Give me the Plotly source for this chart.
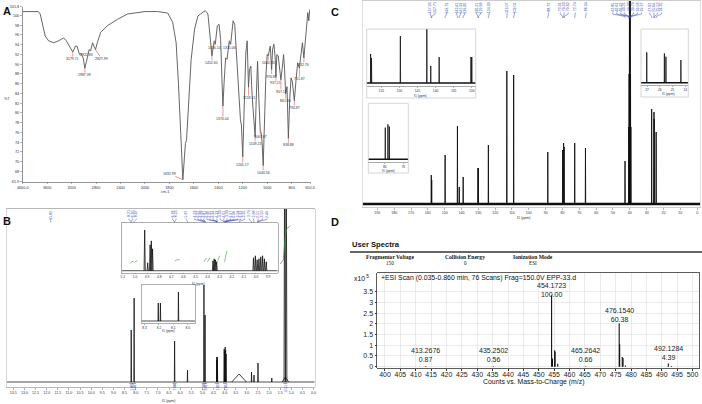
import plotly.graph_objects as go

W, H = 702, 404
SANS = "Liberation Sans, Arial, sans-serif"
SERIF = "Liberation Serif, Times New Roman, serif"
BLUE = "#3a45b0"
GREEN = "#3a9a3a"
RED = "#e07070"

# ================= A: FT-IR =================
IR_WAVENUMBER = [4000, 3742, 3714, 3670, 3632, 3577, 3494, 3412, 3330, 3286,
                 3220, 3181, 3137, 3110, 3071, 3044, 3011, 2983, 2956, 2934,
                 2912, 2890, 2857, 2835, 2808, 2780, 2725, 2615, 2450, 2286,
                 2121, 2000, 1896, 1814, 1773, 1745, 1726, 1710, 1690, 1677,
                 1669, 1660, 1644, 1622, 1594, 1567, 1545, 1526, 1507, 1485,
                 1466, 1452, 1441, 1433, 1425, 1408, 1394, 1381, 1370, 1362,
                 1353, 1340, 1329, 1310, 1299, 1279, 1266, 1249, 1233, 1219,
                 1211, 1200, 1189, 1175, 1164, 1153, 1145, 1134, 1123, 1110,
                 1099, 1090, 1079, 1068, 1057, 1049, 1041, 1033, 1022, 1011,
                 1000, 992, 984, 975, 964, 956, 945, 934, 929, 921,
                 910, 899, 888, 877, 866, 858, 849, 838, 827, 816,
                 805, 795, 778, 764, 751, 737, 723, 712, 700, 688,
                 676, 668, 660, 652]
IR_TRANSMITTANCE = [100.8, 100.8, 100.3, 97.9, 95.8, 94.8, 94.4, 94.8, 95.4, 94.8,
                    93.4, 92.5, 93.7, 93.7, 92.0, 92.2, 91.3, 89.2, 90.6, 92.0,
                    93.0, 92.7, 94.4, 93.7, 93.0, 94.4, 96.5, 97.9, 99.2, 100.3,
                    100.6, 100.8, 100.8, 100.5, 98.6, 94.4, 86.1, 75.8, 66.3, 71.0,
                    73.7, 74.4, 80.6, 91.0, 97.2, 99.9, 100.3, 100.6, 101.0, 100.3,
                    95.8, 91.7, 93.7, 94.8, 94.1, 97.9, 98.2, 95.1, 86.8, 81.4,
                    86.1, 91.3, 91.0, 94.8, 94.1, 98.9, 98.2, 91.0, 82.7, 78.6,
                    77.5, 71.0, 80.6, 92.3, 94.8, 85.3, 88.9, 89.6, 83.4, 77.9,
                    75.1, 82.7, 90.6, 82.7, 76.5, 75.8, 73.7, 69.2, 80.6, 87.5,
                    92.0, 91.7, 92.7, 93.7, 88.9, 93.1, 94.1, 91.0, 87.5, 92.0,
                    91.7, 89.6, 86.8, 89.2, 92.0, 88.9, 83.9, 85.4, 74.8, 82.7,
                    87.2, 86.5, 82.5, 86.8, 90.3, 89.2, 91.7, 94.4, 91.3, 94.4,
                    97.9, 100.6, 98.9, 101.2]
IR_LABEL_AT = [3181, 2983, 2912, 2808, 1690, 1452, 1433, 1362, 1310, 1200, 1153, 1099,
               1057, 1033, 992, 964, 929, 888, 849, 827, 778, 737, 700]
IR_LABEL_TEXT = ["3179.71", "2987.39", "2922.83", "2827.99", "1692.99", "1452.65",
                 "1436.10", "1374.04", "1315.06", "1205.17", "1159.11", "1109.23",
                 "1067.87", "1043.56", "1002.35", "976.88", "937.21", "907.11",
                 "861.80", "838.88", "794.87", "751.87", "732.76"]
IR_X_TICKS = [4000, 3600, 3200, 2800, 2400, 2000, 1800, 1600, 1400, 1200, 1000, 800, 650]
IR_X_TICKTEXT = ["4000.0", "3600", "3200", "2800", "2400", "2000", "1800", "1600",
                 "1400", "1200", "1000", "800", "650.0"]
IR_Y_TICKS = [65.9, 68, 70, 72, 74, 76, 78, 80, 82, 84, 86, 88, 90, 92, 94, 96, 98, 100, 101.8]

# ================= B: 1H NMR =================
H_PPM = [8.20, 8.07, 6.25, 5.67, 4.93, 4.88, 4.355, 4.345, 4.335, 4.325,
         4.02, 4.00, 3.975, 3.955, 3.935, 3.35, 2.79, 2.68, 2.50, 1.88,
         1.27, 1.30, 1.23]
H_INTENSITY = [0.52, 0.84, 0.41, 0.12, 0.97, 0.67, 0.22, 0.25, 0.25, 0.22,
               0.33, 0.31, 0.35, 0.32, 0.28, 0.08, 0.10, 0.07, 0.19, 0.04,
               0.05, 2.5, 2.5]
H_LINEWIDTH = [0.012] * 15 + [0.33, 0.012, 0.012, 0.015, 0.012, 0.15, 0.03, 0.03]

H_IN1_PPM = [4.92, 4.895, 4.875, 4.865, 4.855, 4.355, 4.345, 4.335, 4.325,
             4.02, 4.005, 3.99, 3.975, 3.96, 3.945, 3.93, 3.915]
H_IN1_INTENSITY = [41, 8, 26, 30, 22, 10, 12, 11, 9, 13, 15, 11, 12, 14, 15, 12, 9]
H_IN1_INTEGRALS = [(5.04, 5.01, 7.5, 9.5), (5.005, 4.98, 8.0, 10.0), (4.67, 4.63, 10.0, 11.0),
                   (4.43, 4.41, 9.0, 13.0), (4.40, 4.38, 9.0, 13.0), (4.32, 4.30, 9.0, 15.0),
                   (4.26, 4.24, 9.0, 20.0)]
H_IN2_PPM = [8.205, 8.19, 8.065]
H_IN2_INTENSITY = [18, 18, 29]

H_TOP_TEXT = ["11.82", "8.21", "8.20", "8.07", "6.26", "6.25", "5.67",
              "4.93", "4.92", "4.88", "4.87", "4.36", "4.35", "4.34",
              "4.33", "4.03", "4.01", "3.99", "3.97", "3.96", "3.94", "3.93", "3.35",
              "2.79", "2.68", "2.51", "2.50", "2.49"]
H_TOP_POS = [11.82, 8.30, 8.14, 7.98, 6.34, 6.18, 5.72,
             5.35, 5.21, 5.08, 4.94, 4.80, 4.67, 4.53,
             4.35, 4.20, 4.04, 3.89, 3.73, 3.58, 3.42, 3.27, 3.11,
             2.90, 2.70, 2.50, 2.30, 2.10]
H_INT_PPM = [8.20, 8.07, 6.25, 4.93, 4.87, 4.34, 3.98, 1.27]
H_INT_TEXT = ["1.00", "1.02", "1.00", "1.98", "1.01", "1.03", "2.05", "12.31"]

# ================= C: 13C NMR =================
C_PPM = [157.95, 157.71, 149.73, 142.41, 141.33, 139.00, 130.21, 129.98, 124.03,
         113.07, 109.01, 88.72, 79.91, 79.33, 79.02, 72.74, 66.34, 42.85,
         40.63, 40.42, 40.21, 40.00, 39.79, 39.58, 39.37, 27.02, 25.64, 25.52, 24.35]
C_INTENSITY = [0.29, 0.24, 0.49, 0.78, 0.17, 0.27, 0.36, 0.36, 0.59,
               1.33, 1.29, 0.52, 0.54, 0.61, 0.57, 0.61, 0.56, 0.43,
               0.77, 1.30, 2.20, 2.60, 2.20, 1.30, 0.77, 0.95, 0.92, 0.85, 0.72]
C_IN1_PPM = [157.95, 157.71, 149.73, 142.41, 141.33, 139.00, 130.21, 129.98]
C_IN1_INTENSITY = [29, 25, 47, 54, 17, 26, 26, 26]
C_IN2_PPM = [79.91, 79.33, 79.02]
C_IN2_INTENSITY = [31.7, 35, 32.7]
C_IN3_PPM = [27.02, 25.64, 25.52, 24.35]
C_IN3_INTENSITY = [30.3, 29.3, 26.0, 22.7]
C_TOP_TEXT = ["157.95", "157.71", "149.73", "142.41", "141.33", "139.00", "130.21", "129.98",
              "124.03", "113.07", "109.01", "88.72", "79.91", "79.33", "79.02", "72.74",
              "66.34", "42.85", "40.63", "40.42", "40.21", "40.00", "39.79", "39.58", "39.37",
              "27.02", "25.64", "25.52", "24.35"]
C_TOP_POS = [158.6, 155.7, 148.8, 142.9, 140.5, 138.1, 131.0, 128.7, 123.5, 112.9, 108.5,
             88.2, 81.3, 79.0, 76.6, 72.4, 65.9, 50.2, 47.8, 45.4, 43.3, 40.3, 37.9, 35.4,
             33.0, 28.1, 25.7, 23.5, 21.2]

# ================= D: HRMS =================
MS_MZ = [413.2676, 435.2502, 454.1723, 454.45, 455.175, 455.30, 456.18, 465.2642,
         476.1540, 476.30, 477.157, 477.40, 478.16, 492.1284, 493.13]
MS_COUNTS = [0.029, 0.019, 3.33, 0.38, 0.76, 0.70, 0.14, 0.022,
             2.01, 1.05, 0.45, 0.40, 0.05, 0.146, 0.03]
MS_LABEL_MZ = [413.2676, 435.2502, 454.1723, 465.2642, 476.1540, 492.1284]
MS_LABEL_PCT = ["0.87", "0.56", "100.00", "0.66", "60.38", "4.39"]
MS_LABEL_SHIFT = [2, 2, -4, 2, 0, 2]


# ----------------------------------------------------------------
def dom_x(a, b):
    return [a / W, b / W]


def dom_y(top, bottom):
    return [1 - bottom / H, 1 - top / H]


def ir_pos(w):
    return w if w <= 2000 else 2000 + (w - 2000) / 2


def stems(pos, hts, widths):
    xs, ys = [], []
    for p, h, w in zip(pos, hts, widths):
        xs += [p + w, p, p - w, None]
        ys += [0, h, 0, None]
    return xs, ys


fig = go.Figure()


def line(x, y, xa, ya, color="#111", width=0.8):
    fig.add_trace(go.Scatter(x=x, y=y, mode="lines", xaxis=xa, yaxis=ya,
                             line=dict(color=color, width=width), hoverinfo="skip",
                             connectgaps=False))


annotations = []


def paper_text(px, py, text, size, color="#111", xanchor="center", yanchor="middle",
               family=SANS, angle=0):
    annotations.append(dict(x=px / W, y=1 - py / H, xref="paper", yref="paper", text=text,
                            showarrow=False, font=dict(size=size, color=color, family=family),
                            xanchor=xanchor, yanchor=yanchor, textangle=angle, borderpad=0))


# ---- A ----
line([ir_pos(w) for w in IR_WAVENUMBER], IR_TRANSMITTANCE, "x", "y", "#555", 0.9)
IR_OFFSETS = {1690: (-13, -6), 1362: (0, 13), 888: (0, 12), 1153: (0, 11), 737: (0, 11),
              1200: (0, 8), 2912: (-3, 5), 2808: (6, 9)}
for w, t in zip(IR_LABEL_AT, IR_LABEL_TEXT):
    T = IR_TRANSMITTANCE[IR_WAVENUMBER.index(w)]
    ax, ay = IR_OFFSETS.get(w, (0, 7))
    annotations.append(dict(x=ir_pos(w), y=T, xref="x", yref="y", text=t, showarrow=True,
                            arrowhead=0, arrowwidth=0.7, arrowcolor=RED, ax=ax, ay=ay,
                            standoff=0, borderpad=0,
                            font=dict(size=3.5, color="#333", family=SANS)))

# ---- B main ----
xs, ys = stems(H_PPM, H_INTENSITY, H_LINEWIDTH)
line([13.8, -0.05], [0, 0], "x2", "y2", "#222", 0.8)
line(xs, ys, "x2", "y2", "#111", 0.8)
line([1.50, 1.36, 1.30, 1.22, 1.05], [1.18, 1.22, 1.40, 1.53, 1.56], "x2", "y2", GREEN, 0.7)
for p in H_INT_PPM:
    line([p + 0.09, p - 0.09], [-0.014, -0.014], "x2", "y2", GREEN, 0.7)
for p, t in zip(H_INT_PPM, H_INT_TEXT):
    annotations.append(dict(x=p, y=1 - 383.5 / H, xref="x2", yref="paper", text=t,
                            showarrow=False, textangle=-90, yanchor="top", xanchor="center",
                            borderpad=0, font=dict(size=3.2, color=BLUE, family=SANS)))
bx, by = [], []
for pos, t in zip(H_TOP_POS, H_TOP_TEXT):
    tgt = float(t)
    bx += [pos, pos, tgt, tgt, None]
    by += [1.635, 1.625, 1.605, 1.595, None]
    annotations.append(dict(x=pos, y=1.725, xref="x2", yref="y2", text=t, showarrow=False,
                            textangle=-90, yanchor="top", xanchor="center", borderpad=0,
                            font=dict(size=3.6, color=BLUE, family=SANS)))
line(bx, by, "x2", "y2", BLUE, 0.5)

# ---- B insets ----
xs, ys = stems(H_IN1_PPM, H_IN1_INTENSITY, [0.005] * len(H_IN1_PPM))
line([5.11, 3.82], [0, 0], "x5", "y5", "#222", 0.8)
line(xs, ys, "x5", "y5", "#111", 0.8)
for a, b, y0, y1 in H_IN1_INTEGRALS:
    line([a, (a + b) / 2, b], [y0, (y0 + y1) / 2 + 0.6, y1], "x5", "y5", GREEN, 0.6)
xs, ys = stems(H_IN2_PPM, H_IN2_INTENSITY, [0.002] * len(H_IN2_PPM))
line([8.32, 7.95], [0, 0], "x6", "y6", "#222", 0.8)
line(xs, ys, "x6", "y6", "#111", 0.8)

# ---- C main ----
line([198.7, -1.7], [0, 0], "x3", "y3", "#111", 2.6)
xs, ys = stems(C_PPM, C_INTENSITY, [0.12] * len(C_PPM))
line(xs, ys, "x3", "y3", "#111", 0.9)
cx, cy = [], []
for pos, t in zip(C_TOP_POS, C_TOP_TEXT):
    tgt = float(t)
    cx += [pos, pos, tgt, tgt, None]
    cy += [1.915, 1.9, 1.875, 1.86, None]
    annotations.append(dict(x=pos, y=2.025, xref="x3", yref="y3", text=t, showarrow=False,
                            textangle=-90, yanchor="top", xanchor="center", borderpad=0,
                            font=dict(size=3.6, color=BLUE, family=SANS)))
line(cx, cy, "x3", "y3", BLUE, 0.5)

# ---- C insets ----
line([159.04, 128.9], [0, 0], "x7", "y7", "#111", 1.6)
xs, ys = stems(C_IN1_PPM, C_IN1_INTENSITY, [0.06] * len(C_IN1_PPM))
line(xs, ys, "x7", "y7", "#111", 0.8)
line([83.6, 74.9], [0, 0], "x8", "y8", "#111", 1.6)
xs, ys = stems(C_IN2_PPM, C_IN2_INTENSITY, [0.03] * len(C_IN2_PPM))
line(xs, ys, "x8", "y8", "#111", 0.8)
line([27.47, 23.77], [0, 0], "x9", "y9", "#111", 1.4)
xs, ys = stems(C_IN3_PPM, C_IN3_INTENSITY, [0.015] * len(C_IN3_PPM))
line(xs, ys, "x9", "y9", "#111", 0.8)

# ---- D ----
mx, my = [], []
for m, c in zip(MS_MZ, MS_COUNTS):
    mx += [m, m, None]
    my += [0, c, None]
line(mx, my, "x4", "y4", "#111", 1.1)
for m, pct, sh in zip(MS_LABEL_MZ, MS_LABEL_PCT, MS_LABEL_SHIFT):
    c = MS_COUNTS[MS_MZ.index(m)]
    annotations.append(dict(x=m, y=c, xref="x4", yref="y4", text=f"{m:.4f}<br>{pct}",
                            showarrow=False, yanchor="bottom", xanchor="center", yshift=sh,
                            borderpad=0, font=dict(size=7, color="#222", family=SANS)))

# ---- texts ----
paper_text(2, 11, "<b>A</b>", 11, xanchor="left")
paper_text(330, 12, "<b>C</b>", 11, xanchor="left")
paper_text(2, 221, "<b>B</b>", 11, xanchor="left")
paper_text(330, 222, "<b>D</b>", 11, xanchor="left")
paper_text(7, 99, "%T", 3.8, color="#333")
paper_text(165, 192, "cm-1", 3.8, color="#333")
paper_text(168, 401, "f1 (ppm)", 3.6, color="#333")
paper_text(199, 283.5, "f1 (ppm)", 3.4, color="#333")
paper_text(168, 330.5, "f1 (ppm)", 3.4, color="#333")
paper_text(523, 218, "f1 (ppm)", 3.6, color="#333")
paper_text(420, 95.5, "f1 (ppm)", 3.4, color="#333")
paper_text(388, 170.5, "f1 (ppm)", 3.4, color="#333")
paper_text(668, 94, "f1 (ppm)", 3.4, color="#333")

paper_text(351, 244, "<b>User Spectra</b>", 7.6, xanchor="left")
paper_text(390, 257, "<b>Fragmentor Voltage</b>", 5.6, family=SERIF)
paper_text(390, 262.5, "150", 5.2, family=SERIF)
paper_text(465, 257, "<b>Collision Energy</b>", 5.6, family=SERIF)
paper_text(465, 262.5, "0", 5.2, family=SERIF)
paper_text(533, 257, "<b>Ionization Mode</b>", 5.6, family=SERIF)
paper_text(533, 262.5, "ESI", 5.2, family=SERIF)
paper_text(353, 278, "x10<sup> 5</sup>", 6.8, xanchor="left")
paper_text(379.5, 277.5, "+ESI Scan (0.035-0.860 min, 76 Scans) Frag=150.0V EPP-33.d", 6.9,
           xanchor="left")
paper_text(533, 381.5, "Counts vs. Mass-to-Charge (m/z)", 6.9)

shapes = [
    dict(type="line", xref="paper", yref="paper", x0=350 / W, x1=702 / W,
         y0=1 - 252 / H, y1=1 - 252 / H, line=dict(color="#333", width=1.3)),
]
for (a, t, b, bt) in [(366.7, 29, 475.7, 98), (368.3, 103.3, 408.3, 173), (641, 29, 688.3, 97)]:
    shapes.append(dict(type="rect", xref="paper", yref="paper", x0=a / W, x1=b / W,
                       y0=1 - bt / H, y1=1 - t / H, line=dict(color="#bbb", width=0.6)))

# ---- axes ----
tick_small = dict(showgrid=False, zeroline=False, ticks="outside", ticklen=2, tickwidth=0.5,
                  fixedrange=True)


def nmr_x(domain, rng, anchor, size=3.6, linecolor="#888", mirror=True, **kw):
    d = dict(domain=domain, range=rng, anchor=anchor, showline=True, linecolor=linecolor,
             linewidth=0.6, mirror=mirror, tickcolor="#666",
             tickfont=dict(size=size, color="#333", family=SANS))
    d.update(tick_small)
    d.update(kw)
    return d


def hidden_y(domain, rng, anchor, frame=True, color="#bbb"):
    return dict(domain=domain, range=rng, anchor=anchor, showline=frame, mirror=frame,
                linecolor=color, linewidth=0.6, showticklabels=False, ticks="",
                showgrid=False, zeroline=False, fixedrange=True)


layout_axes = dict(
    xaxis=dict(domain=dom_x(22.7, 310), range=[3000, 650], anchor="y", showline=True,
               linecolor="#666", linewidth=0.7, tickvals=[ir_pos(v) for v in IR_X_TICKS],
               ticktext=IR_X_TICKTEXT, tickcolor="#666",
               tickfont=dict(size=3.8, color="#333", family=SANS), **tick_small),
    yaxis=dict(domain=dom_y(6.7, 181.7), range=[65.9, 101.8], anchor="x", showline=True,
               linecolor="#666", linewidth=0.7, tickvals=IR_Y_TICKS,
               ticktext=[("%g" % v) for v in IR_Y_TICKS], tickcolor="#666",
               tickfont=dict(size=3.8, color="#333", family=SANS), **tick_small),
    xaxis2=nmr_x(dom_x(6.7, 314.7), [13.8, -0.05], "y2", tick0=0, dtick=0.5, tickformat=".1f"),
    yaxis2=hidden_y(dom_y(209, 387), [-0.05, 1.73], "x2"),
    xaxis5=nmr_x(dom_x(121.7, 277.7), [5.11, 3.82], "y5", size=3.3, linecolor="#777",
                 tick0=0, dtick=0.1, tickformat=".1f", ticklen=1),
    yaxis5=hidden_y(dom_y(223, 272.7), [-2, 48], "x5", color="#777"),
    xaxis6=nmr_x(dom_x(141.7, 195), [8.32, 7.95], "y6", size=3.3, linecolor="#777",
                 tick0=0, dtick=0.1, tickformat=".1f", ticklen=1),
    yaxis6=hidden_y(dom_y(285, 323), [-2, 36], "x6", color="#777"),
    xaxis3=nmr_x(dom_x(362.7, 700), [198.7, -1.7], "y3", size=3.6, linecolor="#aaa",
                 tick0=0, dtick=10),
    yaxis3=hidden_y(dom_y(1, 207.5), [-0.035, 2.03], "x3", color="#ccc"),
    xaxis7=nmr_x(dom_x(366.7, 475.7), [159.04, 128.9], "y7", size=3.3, linecolor="#777",
                 mirror=False, tickvals=[155, 150, 145, 140, 135, 130], ticklen=1),
    yaxis7=hidden_y(dom_y(29, 86), [-3, 54], "x7", frame=False),
    xaxis8=nmr_x(dom_x(368.3, 408.3), [83.6, 74.9], "y8", size=3.3, linecolor="#777",
                 mirror=False, tickvals=[80, 76], ticklen=1),
    yaxis8=hidden_y(dom_y(103.3, 162), [-2.7, 56], "x8", frame=False),
    xaxis9=nmr_x(dom_x(641, 688.3), [27.47, 23.77], "y9", size=3.3, linecolor="#777",
                 mirror=False, tickvals=[27, 26, 25, 24], ticklen=1),
    yaxis9=hidden_y(dom_y(29, 85.5), [-2.8, 53.7], "x9", frame=False),
    xaxis4=dict(domain=dom_x(377.3, 699.3), range=[397.5, 502.2], anchor="y4", tick0=400,
                dtick=5, showgrid=True, gridcolor="#e2e2e2", gridwidth=0.7, zeroline=False,
                showline=True, mirror=True, linecolor="#333", linewidth=0.8, ticks="outside",
                ticklen=2, tickcolor="#333", tickfont=dict(size=7, color="#222", family=SANS),
                ticklabelstandoff=-2, fixedrange=True),
    yaxis4=dict(domain=dom_y(273.3, 367.7), range=[-0.05, 4.36], anchor="x4",
                tickvals=[0, 0.5, 1, 1.5, 2, 2.5, 3, 3.5],
                ticktext=["0", "0.5", "1", "1.5", "2", "2.5", "3", "3.5"],
                showgrid=True, gridcolor="#e2e2e2", gridwidth=0.7, zeroline=False,
                showline=True, mirror=True, linecolor="#333", linewidth=0.8, ticks="outside",
                ticklen=2, tickcolor="#333", tickfont=dict(size=7, color="#222", family=SANS),
                fixedrange=True),
)

fig.update_layout(
    width=W, height=H, autosize=False, template="none",
    margin=dict(l=0, r=0, t=0, b=0, pad=0),
    paper_bgcolor="white", plot_bgcolor="white", showlegend=False,
    font=dict(family=SANS, size=6, color="#222"),
    annotations=annotations, shapes=shapes, **layout_axes,
)

fig.write_html("out.html", config={"displayModeBar": False, "staticPlot": True})
